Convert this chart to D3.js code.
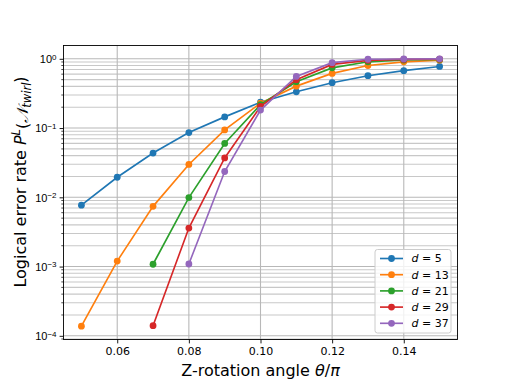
<!DOCTYPE html>
<html>
<head>
<meta charset="utf-8">
<script src="https://cdn.jsdelivr.net/npm/d3@7"></script>
<style>
  body { margin: 0; background: #fff; }
  svg { font-family: "DejaVu Sans", sans-serif; }
</style>
</head>
<body>
<svg id="chart" width="508" height="381"></svg>
<script>
// Data
const angles = [0.05, 0.06, 0.07, 0.08, 0.09, 0.10, 0.11, 0.12, 0.13, 0.14, 0.15];
const distances = [5, 13, 21, 29, 37];
const errD5  = [0.0077, 0.0195, 0.0436, 0.086, 0.145, 0.236, 0.334, 0.452, 0.570, 0.675, 0.775];
const errD13 = [1.38e-4, 1.2e-3, 0.0074, 0.0298, 0.094, 0.229, 0.403, 0.616, 0.800, 0.905, 0.955];
const errD21 = [null, null, 1.08e-3, 0.0099, 0.060, 0.218, 0.467, 0.74, 0.905, 0.96, 0.98];
const errD29 = [null, null, 1.4e-4, 3.6e-3, 0.037, 0.205, 0.50, 0.83, 0.95, 0.98, 0.99];
const errD37 = [null, null, null, 1.09e-3, 0.0236, 0.182, 0.557, 0.88, 0.985, 0.995, 0.998];
const colors = ["#1f77b4", "#ff7f0e", "#2ca02c", "#d62728", "#9467bd"];
const xTicks = [0.06, 0.08, 0.10, 0.12, 0.14];
const yTicks = [1e-4, 1e-3, 1e-2, 1e-1, 1];

const series = [errD5, errD13, errD21, errD29, errD37].map((vals, i) => ({
    d: distances[i],
    color: colors[i],
    points: angles.map((a, j) => ({x: a, y: vals[j]})).filter(p => p.y != null)
}));

const svg = d3.select("#chart");
const margin = {left: 63.5, top: 45.5, right: 457.5, bottom: 339.5};

// matplotlib style 5% margins
const x = d3.scaleLinear().domain([0.045, 0.155]).range([margin.left, margin.right]);
const allY = series.flatMap(s => s.points.map(p => Math.log10(p.y)));
const lo = d3.min(allY), hi = d3.max(allY), pad = (hi - lo) * 0.05;
const y = d3.scaleLog().domain([Math.pow(10, lo - pad), Math.pow(10, hi + pad)])
    .range([margin.bottom, margin.top]);

const plotW = margin.right - margin.left, plotH = margin.bottom - margin.top;

// grid: y major + minor
const minorY = [];
for (let e = -5; e <= 0; e++) for (let m = 2; m <= 9; m++) {
    const v = m * Math.pow(10, e);
    if (v >= y.domain()[0] && v <= y.domain()[1]) minorY.push(v);
}
const grid = svg.append("g");
grid.selectAll(".ymin").data(minorY).join("line")
    .attr("x1", margin.left).attr("x2", margin.right)
    .attr("y1", d => y(d)).attr("y2", d => y(d))
    .attr("stroke", "#c8c8c8").attr("stroke-width", 1.1);
grid.selectAll(".ymaj").data(yTicks).join("line")
    .attr("x1", margin.left).attr("x2", margin.right)
    .attr("y1", d => y(d)).attr("y2", d => y(d))
    .attr("stroke", "#b8b8b8").attr("stroke-width", 1.1);
grid.selectAll(".xmaj").data(xTicks).join("line")
    .attr("x1", d => x(d)).attr("x2", d => x(d))
    .attr("y1", margin.top).attr("y2", margin.bottom)
    .attr("stroke", "#b8b8b8").attr("stroke-width", 1.1);

// lines and markers
const line = d3.line().x(d => x(d.x)).y(d => y(d.y));
series.forEach(s => {
    const g = svg.append("g");
    g.append("path").datum(s.points)
        .attr("d", line).attr("fill", "none")
        .attr("stroke", s.color).attr("stroke-width", 1.65);
    g.selectAll("circle").data(s.points).join("circle")
        .attr("cx", d => x(d.x)).attr("cy", d => y(d.y)).attr("r", 3.4)
        .attr("fill", s.color);
});

// axes
const xAxis = d3.axisBottom(x).tickValues(xTicks).tickFormat(d3.format(".2f"))
    .tickSizeInner(3.9).tickSizeOuter(0).tickPadding(4);
svg.append("g").attr("transform", `translate(0,${margin.bottom})`).call(xAxis)
    .call(g => g.select(".domain").remove())
    .call(g => g.selectAll("text").attr("font-size", 11).attr("fill", "#000").attr("font-family", "DejaVu Sans"))
    .call(g => g.selectAll("line").attr("stroke", "#000").attr("stroke-width", 0.9));

const yAxis = d3.axisLeft(y).tickValues(yTicks).tickFormat("")
    .tickSizeInner(3.9).tickSizeOuter(0);
const yg = svg.append("g").attr("transform", `translate(${margin.left},0)`).call(yAxis)
    .call(g => g.select(".domain").remove())
    .call(g => g.selectAll("line").attr("stroke", "#000").attr("stroke-width", 0.9));
yg.selectAll(".tick").append("text")
    .attr("x", -7).attr("dy", "0.35em").attr("text-anchor", "end")
    .attr("fill", "#000").attr("font-size", 11)
    .each(function(d) {
        const t = d3.select(this);
        t.append("tspan").text("10");
        t.append("tspan").attr("dy", "-0.45em").attr("font-size", 8).text(String(Math.round(Math.log10(d))).replace("-", "\u2212"));
    });
svg.append("g").selectAll("line").data(minorY).join("line")
    .attr("x1", margin.left - 2.2).attr("x2", margin.left)
    .attr("y1", d => y(d)).attr("y2", d => y(d))
    .attr("stroke", "#000").attr("stroke-width", 0.7);

// frame
svg.append("rect").attr("x", margin.left).attr("y", margin.top)
    .attr("width", plotW).attr("height", plotH)
    .attr("fill", "none").attr("stroke", "#000").attr("stroke-width", 0.9);

// axis labels
const xl = svg.append("text").attr("x", (margin.left + margin.right) / 2).attr("y", 375.5)
    .attr("text-anchor", "middle").attr("font-size", 16).attr("fill", "#000");
xl.append("tspan").text("Z-rotation angle ");
xl.append("tspan").attr("font-style", "italic").text("\u03b8");
xl.append("tspan").text("/");
xl.append("tspan").attr("font-style", "italic").text("\u03c0");

const yl = svg.append("text")
    .attr("transform", `translate(25.5,182) rotate(-90)`)
    .attr("text-anchor", "middle").attr("font-size", 16).attr("fill", "#000");
yl.append("tspan").text("Logical error rate ");
yl.append("tspan").attr("font-style", "italic").text("P");
yl.append("tspan").attr("font-style", "italic").attr("font-size", 11.5).attr("dy", "-0.45em").text("L");
yl.append("tspan").attr("dy", "0.45em").text("(");
yl.append("tspan").attr("font-style", "italic").text("\ud835\udca9");
yl.append("tspan").attr("font-style", "italic").attr("font-size", 11.5).attr("dy", "0.3em").text("twirl");
yl.append("tspan").attr("dy", "-0.3em").text(")");

// legend
const lg = svg.append("g").attr("transform", "translate(375,249.5)");
lg.append("rect").attr("width", 76).attr("height", 83.5).attr("rx", 2.5)
    .attr("fill", "#fff").attr("fill-opacity", 0.8).attr("stroke", "#cccccc").attr("stroke-width", 1);
series.forEach((s, i) => {
    const row = lg.append("g").attr("transform", `translate(0,${9 + i * 16.2})`);
    row.append("line").attr("x1", 5).attr("x2", 28).attr("stroke", s.color).attr("stroke-width", 1.65);
    row.append("circle").attr("cx", 16.5).attr("r", 3.4).attr("fill", s.color);
    const t = row.append("text").attr("x", 36.5).attr("dy", "0.36em").attr("font-size", 11).attr("fill", "#000");
    t.append("tspan").attr("font-style", "italic").text("d");
    t.append("tspan").text(" = " + s.d);
});
</script>
</body>
</html>
